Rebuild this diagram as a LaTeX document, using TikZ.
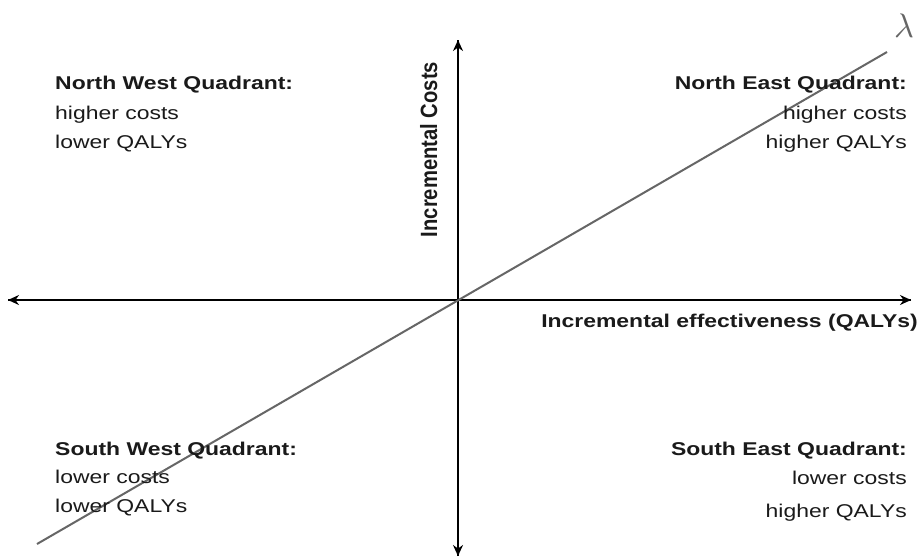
\documentclass[tikz,border=0pt]{standalone}
\usepackage{fontspec}
\usepackage{graphicx}
\usetikzlibrary{arrows.meta}
\newfontfamily\quadfont[FakeStretch=1.24]{Liberation Sans}
\newfontfamily\vertfont[FakeStretch=0.86]{Liberation Sans}
\definecolor{inkdark}{HTML}{1A1A1A}
\definecolor{linegray}{HTML}{666666}
\begin{document}
\begin{tikzpicture}[x=1pt,y=-1pt,
  axis/.style={line width=2.6pt,draw=black,-{Stealth[length=11pt,width=10pt]}},
  thresh/.style={line width=2pt,draw=linegray},
  qtitle/.style={inner sep=0pt,font=\quadfont\bfseries\fontsize{18.5}{22}\selectfont,text=inkdark},
  qtext/.style={inner sep=0pt,font=\quadfont\fontsize{18.5}{22}\selectfont,text=inkdark},
  axlabel/.style={inner sep=0pt,font=\quadfont\bfseries\fontsize{18.5}{22}\selectfont,text=inkdark}]
\useasboundingbox (0,0) rectangle (923,558);
\fill[white] (0,0) rectangle (923,558);

% axis end points
\coordinate (xl) at (8,300);
\coordinate (xr) at (911,300);
\coordinate (yt) at (458,40);
\coordinate (yb) at (458,556);
% willingness-to-pay threshold line
\coordinate (ls) at (37,544);
\coordinate (le) at (887,52);

\draw[axis] (xr) -- (xl);
\draw[axis] (xl) -- (xr);
\draw[axis] (yb) -- (yt);
\draw[axis] (yt) -- (yb);
\draw[thresh] (ls) -- (le);
\node[text=linegray,inner sep=0pt,anchor=base west] (lam) at (894,37) {\scalebox{3.4}{$\lambda$}};

% axis labels
\node[axlabel,anchor=base east] (xlab) at (918,327) {Incremental effectiveness (QALYs)};
\node[inner sep=0pt,anchor=base,rotate=90,font=\vertfont\bfseries\fontsize{23.5}{26}\selectfont,text=inkdark] (ylab) at (437,149.5) {Incremental Costs};

% north west
\node[qtitle,anchor=base west] (nwt) at (55,89) {North West Quadrant:};
\node[qtext,anchor=base west] (nw1) at (55,119) {higher costs};
\node[qtext,anchor=base west] (nw2) at (55,148) {lower QALYs};
% north east
\node[qtitle,anchor=base east] (net) at (907,89) {North East Quadrant:};
\node[qtext,anchor=base east] (ne1) at (907,119) {higher costs};
\node[qtext,anchor=base east] (ne2) at (907,148) {higher QALYs};
% south west
\node[qtitle,anchor=base west] (swt) at (55,455) {South West Quadrant:};
\node[qtext,anchor=base west] (sw1) at (55,483) {lower costs};
\node[qtext,anchor=base west] (sw2) at (55,512) {lower QALYs};
% south east
\node[qtitle,anchor=base east] (set) at (907,455) {South East Quadrant:};
\node[qtext,anchor=base east] (se1) at (907,484) {lower costs};
\node[qtext,anchor=base east] (se2) at (907,517) {higher QALYs};
\end{tikzpicture}
\end{document}
